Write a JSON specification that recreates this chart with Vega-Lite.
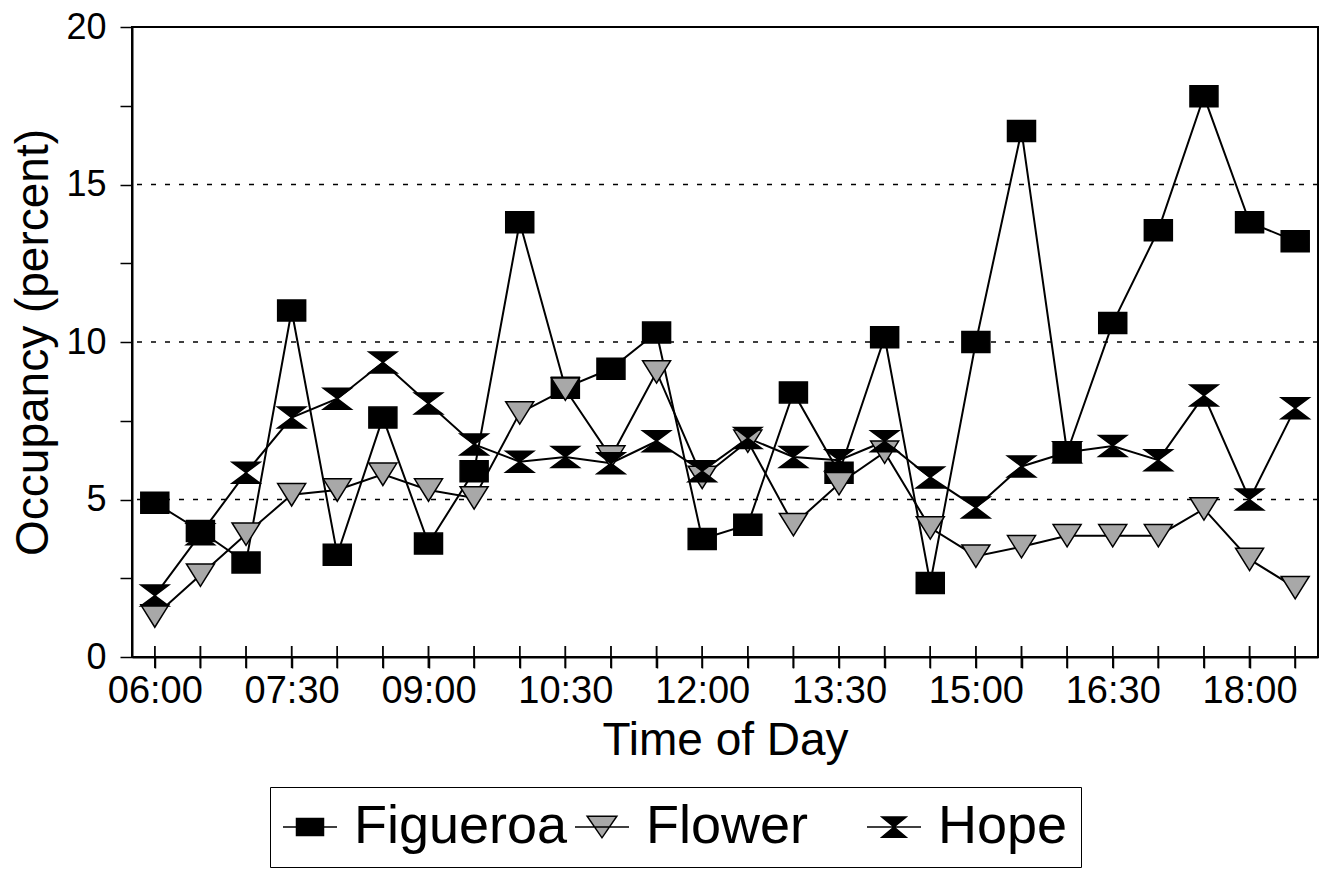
{
  "$schema": "https://vega.github.io/schema/vega-lite/v6.json",
  "width": 1186,
  "height": 630,
  "autosize": "none",
  "padding": {"left": 132, "top": 27, "right": 5, "bottom": 215},
  "background": "white",
  "config": {
    "font": "Liberation Sans",
    "view": {"stroke": "black", "strokeWidth": 2}
  },
  "data": {
    "values": [
      {"time": "06:00", "Figueroa": 4.9, "Flower": 1.3, "Hope": 1.95},
      {"time": "06:30", "Figueroa": 4.0, "Flower": 2.6, "Hope": 3.9},
      {"time": "07:00", "Figueroa": 3.0, "Flower": 3.9, "Hope": 5.85},
      {"time": "07:30", "Figueroa": 11.0, "Flower": 5.15, "Hope": 7.6},
      {"time": "08:00", "Figueroa": 3.25, "Flower": 5.3, "Hope": 8.2},
      {"time": "08:30", "Figueroa": 7.6, "Flower": 5.8, "Hope": 9.35},
      {"time": "09:00", "Figueroa": 3.6, "Flower": 5.3, "Hope": 8.05},
      {"time": "09:30", "Figueroa": 5.9, "Flower": 5.05, "Hope": 6.75},
      {"time": "10:00", "Figueroa": 13.8, "Flower": 7.75, "Hope": 6.2},
      {"time": "10:30", "Figueroa": 8.55, "Flower": 8.5, "Hope": 6.35},
      {"time": "11:00", "Figueroa": 9.15, "Flower": 6.35, "Hope": 6.15},
      {"time": "11:30", "Figueroa": 10.3, "Flower": 9.05, "Hope": 6.85},
      {"time": "12:00", "Figueroa": 3.75, "Flower": 5.7, "Hope": 5.9},
      {"time": "12:30", "Figueroa": 4.2, "Flower": 6.85, "Hope": 6.95},
      {"time": "13:00", "Figueroa": 8.4, "Flower": 4.2, "Hope": 6.35},
      {"time": "13:30", "Figueroa": 5.85, "Flower": 5.5, "Hope": 6.25},
      {"time": "14:00", "Figueroa": 10.15, "Flower": 6.5, "Hope": 6.85},
      {"time": "14:30", "Figueroa": 2.35, "Flower": 4.1, "Hope": 5.7},
      {"time": "15:00", "Figueroa": 10.0, "Flower": 3.2, "Hope": 4.75},
      {"time": "15:30", "Figueroa": 16.7, "Flower": 3.5, "Hope": 6.05},
      {"time": "16:00", "Figueroa": 6.5, "Flower": 3.85, "Hope": 6.5},
      {"time": "16:30", "Figueroa": 10.6, "Flower": 3.85, "Hope": 6.7},
      {"time": "17:00", "Figueroa": 13.55, "Flower": 3.85, "Hope": 6.25},
      {"time": "17:30", "Figueroa": 17.8, "Flower": 4.7, "Hope": 8.3},
      {"time": "18:00", "Figueroa": 13.8, "Flower": 3.1, "Hope": 5.0},
      {"time": "18:30", "Figueroa": 13.2, "Flower": 2.2, "Hope": 7.9}
    ]
  },
  "layer": [
    {
      "data": {"values": [{"g": 5}, {"g": 10}, {"g": 15}]},
      "mark": {"type": "rule", "color": "black", "strokeWidth": 1.5, "strokeDash": [5, 9]},
      "encoding": {
        "y": {"field": "g", "type": "quantitative", "scale": {"domain": [0, 20], "nice": false}}
      }
    },
    {
      "transform": [{"fold": ["Figueroa", "Flower", "Hope"], "as": ["series", "value"]}],
      "mark": {"type": "tick", "orient": "vertical", "size": 22, "thickness": 1.5, "color": "black"},
      "encoding": {
        "x": {"field": "time", "type": "ordinal"},
        "y": {"datum": 0}
      }
    },
    {
      "transform": [{"fold": ["Figueroa", "Flower", "Hope"], "as": ["series", "value"]}],
      "mark": {"type": "line", "color": "black", "strokeWidth": 2},
      "encoding": {
        "x": {
          "field": "time",
          "type": "ordinal",
          "scale": {"type": "point", "padding": 0.5},
          "axis": {
            "title": "Time of Day",
            "labelAngle": 0,
            "labelAlign": "center",
            "labelBaseline": "top",
            "labelExpr": "indexof(['06:00','07:30','09:00','10:30','12:00','13:30','15:00','16:30','18:00'], datum.value) >= 0 ? datum.value : ''",
            "labelFontSize": 38,
            "labelColor": "black",
            "labelPadding": 4,
            "titleFontSize": 46,
            "titleFontWeight": "normal",
            "titleColor": "black",
            "titlePadding": 8,
            "tickSize": 11,
            "tickColor": "black",
            "tickWidth": 1.5,
            "domainColor": "black",
            "domainWidth": 2
          }
        },
        "y": {
          "field": "value",
          "type": "quantitative",
          "scale": {"domain": [0, 20], "nice": false},
          "axis": {
            "title": "Occupancy (percent)",
            "values": [0, 2.5, 5, 7.5, 10, 12.5, 15, 17.5, 20],
            "labelExpr": "datum.value % 5 === 0 ? datum.label : ''",
            "grid": false,
            "labelFontSize": 36,
            "labelColor": "black",
            "labelPadding": 14,
            "titleFontSize": 46,
            "titleFontWeight": "normal",
            "titleColor": "black",
            "titlePadding": 8,
            "tickSize": 12,
            "tickColor": "black",
            "tickWidth": 1.5,
            "domainColor": "black",
            "domainWidth": 2
          }
        },
        "detail": {"field": "series"}
      }
    },
    {
      "transform": [{"fold": ["Figueroa", "Flower", "Hope"], "as": ["series", "value"]}],
      "mark": {"type": "point", "filled": true, "stroke": "black", "strokeWidth": 1.5, "opacity": 1, "size": 784},
      "encoding": {
        "x": {"field": "time", "type": "ordinal"},
        "y": {"field": "value", "type": "quantitative"},
        "shape": {
          "field": "series",
          "type": "nominal",
          "scale": {
            "domain": ["Figueroa", "Flower", "Hope"],
            "range": ["M-1,-0.75H1V0.75H-1Z", "M-1,-0.8H1L0,0.8Z", "M-1,-0.75H1L0,0L1,0.75H-1L0,0Z"]
          },
          "legend": null
        },
        "fill": {
          "field": "series",
          "type": "nominal",
          "scale": {"domain": ["Figueroa", "Flower", "Hope"], "range": ["black", "#a8a8a8", "black"]},
          "legend": null
        }
      }
    },
    {
      "transform": [
        {"fold": ["Figueroa", "Flower", "Hope"], "as": ["series", "value"]},
        {"filter": "false"}
      ],
      "mark": {"type": "point", "filled": true, "stroke": "black", "strokeWidth": 2, "opacity": 1},
      "encoding": {
        "x": {"field": "time", "type": "ordinal"},
        "y": {"field": "value", "type": "quantitative"},
        "shape": {
          "field": "series",
          "type": "nominal",
          "scale": {
            "domain": ["Figueroa", "Flower", "Hope"],
            "range": ["M-2,0H2M-1,-0.63H1V0.63H-1Z", "M-2,0H2M-1.1,-0.8H1.1L0,0.8Z", "M-2,0H2M-0.9,-0.75H0.9L0,0L0.9,0.75H-0.9L0,0Z"]
          },
          "legend": {
            "title": null,
            "orient": "none",
            "legendX": 138,
            "legendY": 760,
            "direction": "horizontal",
            "columns": 3,
            "gridAlign": "all",
            "columnPadding": 4,
            "padding": 13,
            "strokeColor": "black",
            "labelFontSize": 54,
            "labelColor": "black",
            "labelLimit": 500,
            "labelOffset": 17,
            "symbolSize": 729,
            "symbolOffset": 0,
            "encode": {
              "legend": {"strokeWidth": {"value": 2}},
              "symbols": {"stroke": {"value": "black"}, "strokeWidth": {"value": 2}}
            }
          }
        },
        "fill": {
          "field": "series",
          "type": "nominal",
          "scale": {"domain": ["Figueroa", "Flower", "Hope"], "range": ["black", "#a8a8a8", "black"]}
        }
      }
    }
  ],
  "resolve": {"scale": {"shape": "independent", "fill": "independent"}}
}
